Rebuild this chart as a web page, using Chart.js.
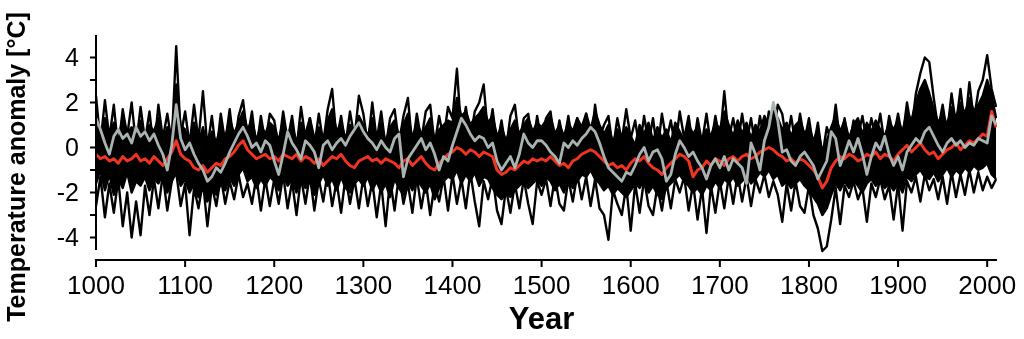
<!DOCTYPE html>
<html>
<head>
<meta charset="utf-8">
<script src="https://cdn.jsdelivr.net/npm/chart.js@4.4.1/dist/chart.umd.min.js"></script>
<style>
  html, body { margin: 0; padding: 0; background: #fff; }
  #wrap { width: 1024px; height: 339px; }
</style>
</head>
<body>
<div id="wrap"><canvas id="tempChart" width="1024" height="339"></canvas></div>
<script>
// 5-year steps, 1000 .. 2010
const startYear = 1000;
const yearStep = 5;

// red line (mean)
const redMean = [
  -0.3, -0.5, -0.4, -0.6, -0.5, -0.7, -0.4, -0.6, -0.5, -0.3, -0.6, -0.5, -0.7, -0.4, -0.6, -0.8, -0.5, -0.2, 0.3, -0.3,
  -0.5, -0.6, -0.9, -1.0, -0.8, -1.1, -0.9, -0.7, -0.8, -0.5, -0.4, -0.2, 0.1, 0.3, -0.1, -0.3, -0.5, -0.4, -0.3, -0.5,
  -0.4, -0.6, -0.3, -0.4, -0.5, -0.3, -0.6, -0.4, -0.5, -0.7, -0.5, -0.8, -0.6, -0.4, -0.5, -0.3, -0.6, -0.8, -0.9, -0.6,
  -0.5, -0.4, -0.6, -0.5, -0.7, -0.5, -0.6, -0.7, -0.9, -0.6, -0.5, -0.8, -0.6, -0.4, -0.7, -0.9, -1.0, -0.7, -0.5, -0.3,
  -0.2, 0.0, -0.1, -0.3, -0.1, -0.2, -0.4, -0.2, -0.3, -0.4, -1.0, -1.2, -1.1, -0.9, -1.0, -0.8, -0.6, -0.7, -0.5, -0.6,
  -0.5, -0.6, -0.4, -0.6, -0.8, -0.7, -0.9, -0.6, -0.5, -0.3, -0.2, -0.1, -0.2, -0.4, -0.6, -0.8, -0.7, -0.9, -0.8, -1.0,
  -0.7, -0.5, -0.6, -0.4, -0.7, -0.9, -1.0, -1.2, -0.9, -0.7, -0.5, -0.3, -0.4, -0.6, -1.3, -1.0, -0.9, -0.6, -0.8, -0.5,
  -0.6, -0.8, -0.5, -0.4, -0.6, -0.4, -0.3, -0.5, -0.4, -0.2, -0.1, 0.0, -0.1, -0.3, -0.4, -0.6, -0.5, -0.7, -0.5, -0.6,
  -0.8, -1.0, -1.3, -1.8, -1.5, -0.9, -0.6, -0.4, -0.5, -0.3, -0.4, -0.6, -0.5, -0.3, -0.4, -0.2, -0.5, -0.3, -0.4, -0.6,
  -0.3, -0.1, 0.1, -0.2, 0.0, 0.2, -0.1, -0.3, -0.2, -0.5, -0.3, -0.1, 0.0, 0.2, -0.1, 0.1, 0.3, 0.2, 0.4, 0.6,
  0.5, 1.6, 0.9
];

// grey line
const greySeries = [
  1.3, 0.8, 0.2, -0.3, 0.5, 0.8, 0.4, 0.6, 0.2, 0.9, 0.5, 0.7, 0.3, 0.6, 0.1, -0.3, -1.0, 0.1, 1.9, 0.4,
  -0.1, 0.2, -0.3, -0.7, -1.0, -1.5, -1.3, -0.9, -1.1, -0.7, -0.2, 0.2, 0.6, 0.9, 0.5, 0.0, 0.2, -0.2, 0.3, 0.1,
  -0.6, -1.2, -0.3, 0.7, 0.2, -0.1, -0.5, 0.3, 0.1, -0.2, -0.9, 0.1, 0.3, -0.1, 0.2, 0.4, 0.1, 0.5, 0.8, 1.1,
  0.7, 0.4, 0.2, -0.1, 0.3, 0.0, -0.2, 0.4, 0.6, -1.3, -0.5, -0.2, 0.1, 0.4, -0.1, 0.2, -0.3, -1.0, -0.4, -0.6,
  0.1, 0.7, 1.3, 1.0, 0.6, 0.3, 0.5, 0.4, 0.0, 0.2, -0.6, -1.0, -0.7, -0.4, -0.9, -0.3, 0.6, 0.2, 0.0, 0.3,
  0.3, 0.1, -0.2, -0.4, -0.7, 0.2, 0.0, 0.3, 0.1, 0.4, 0.6, 0.9, 0.7, 0.2, -0.4, -0.9, -1.1, -1.3, -1.5, -1.1,
  -1.2, -0.8, -0.3, 0.0, -0.6, -0.2, -0.1, -0.5, -1.5, -1.2, -0.3, 0.3, 0.0, -0.4, -0.2, -0.6, -0.9, -1.4, -0.8, -0.5,
  -0.9, -0.4, -1.0, -0.5, -0.7, -0.9, -1.6, 0.2, -0.3, -1.0, 0.3, 0.9, 2.0, 1.2, -0.2, -0.1, -0.6, -0.8, -0.4, -0.2,
  -0.5, -0.8, -1.4, -1.0, -0.6, 0.7, 0.4, -0.8, -0.3, 0.3, -0.2, 0.4, -0.3, -1.2, -0.4, 0.2, -0.1, 0.5, -0.3, -0.8,
  -0.4, -1.0, -0.2, 0.1, 0.4, 0.2, 0.7, 0.9, 0.5, 0.1, -0.2, 0.2, 0.4, 0.1, 0.3, 0.0, 0.2, 0.1, 0.4, 0.3,
  0.2, 1.4, 1.0
];

// black reconstructions
const black1 = [
  2.3, 0.2, 2.1, 0.4, 1.9, -0.1, 1.7, 0.5, 2.0, 0.1, 1.8, 0.3, 1.6, -0.2, 1.9, 0.4, 1.5, 0.2, 4.5, 0.5,
  1.6, 0.1, 1.9, 0.3, 2.5, 0.0, 1.4, -0.3, 1.5, 0.2, 1.7, 0.0, 1.4, 2.1, 0.4, 1.6, -0.1, 1.4, 0.2, 1.5,
  1.2, 0.0, 1.6, 0.3, 1.4, -0.1, 1.8, 0.4, 1.3, 0.0, 1.5, 0.2, 1.7, 2.6, 0.3, 1.4, 0.1, 1.6, 0.4, 2.3,
  1.5, 0.1, 2.0, 0.3, 1.6, 0.0, 1.3, 1.7, 0.2, 1.4, 2.2, 0.0, 1.5, 0.3, 1.6, 1.9, 0.1, 1.4, 0.4, 1.8,
  1.3, 3.5, 0.6, 1.8, 0.4, 1.6, 2.0, 2.8, 0.5, 1.7, 0.1, 1.2, -0.1, 1.4, 1.9, 0.2, 1.3, 1.5, 0.0, 1.4,
  0.2, 1.3, 1.6, 0.0, 1.2, 0.2, 1.4, 0.1, 1.3, 0.4, 1.5, 0.0, 1.9, 0.4, 1.0, 1.4, -0.1, 1.3, 0.3, 1.7,
  0.4, 1.2, -0.1, 1.4, 0.2, 1.3, -0.2, 1.5, 0.3, 1.2, 0.0, 1.6, 0.4, 1.4, -0.1, 1.3, 0.2, 1.5, 0.1, 1.4,
  0.3, 2.5, 0.4, 1.3, 0.1, 1.5, 0.2, 1.3, 0.0, 1.4, 0.3, 1.6, 0.5, 1.9, 1.5, 0.2, 1.4, 0.1, 1.5, 0.3,
  1.3, 0.0, 1.1, -0.4, 0.9, 0.3, 1.9, 0.2, 1.3, 0.0, 1.2, 0.5, 1.4, 0.2, 1.3, 0.4, 1.5, 0.1, 1.4, 0.5,
  1.5, 0.4, 2.0, 0.8, 2.4, 3.3, 4.0, 3.8, 2.2, 0.8, 1.9, 0.6, 2.4, 1.0, 2.6, 0.9, 2.9, 1.2, 2.5, 3.0,
  4.1, 2.6, 1.8
];
const black2 = [
  1.0, 0.3, 1.3, 0.5, 1.1, 0.2, 1.4, 0.6, 0.9, 0.3, 1.2, 0.4, 1.0, 0.7, 1.3, 0.2, 0.9, 0.5, 2.8, 1.0,
  0.8, 0.1, 1.1, 0.2, 0.9, 0.0, 0.7, 0.2, 1.0, 0.4, 1.3, 0.6, 1.1, 1.6, 0.8, 1.2, 0.3, 1.0, 0.6, 1.1,
  0.9, 0.3, 1.2, 0.5, 1.0, 0.2, 1.1, 0.6, 1.3, 0.4, 0.9, 0.3, 1.2, 1.7, 0.7, 1.1, 0.4, 1.0, 0.6, 1.4,
  1.0, 0.5, 1.3, 0.4, 1.1, 0.2, 0.9, 1.2, 0.5, 1.0, 1.5, 0.4, 1.1, 0.6, 0.9, 1.3, 0.3, 0.8, 1.0, 1.2,
  1.1, 2.2, 1.4, 1.6, 1.0, 1.3, 1.5, 1.8, 1.1, 1.4, 0.5, 0.9, 0.3, 0.8, 1.2, 0.6, 1.0, 1.3, 0.7, 1.1,
  0.9, 1.2, 1.4, 0.6, 1.0, 0.5, 1.1, 0.7, 1.3, 0.9, 1.5, 0.8, 1.6, 1.0, 0.6, 1.0, 0.2, 0.8, 0.4, 0.9,
  0.5, 0.1, 1.0, 0.6, 1.1, 0.3, 0.9, 0.4, 0.8, 0.2, 1.1, 0.7, 0.3, 1.0, 0.6, 0.9, 0.2, 0.8, 0.5, 1.1,
  0.8, 1.6, 1.0, 0.5, 1.2, 0.6, 1.1, 0.4, 1.0, 0.7, 1.4, 1.0, 1.7, 1.3, 0.8, 1.1, 0.5, 1.0, 1.2, 0.6,
  0.9, 0.3, 0.8, -0.2, 0.3, 0.9, 1.4, 0.7, 1.2, 0.4, 1.0, 1.3, 0.6, 1.1, 0.7, 1.2, 0.8, 0.5, 1.1, 0.8,
  1.2, 0.7, 1.6, 1.2, 2.0, 2.6, 3.0, 2.4, 1.7, 1.1, 1.5, 1.0, 1.8, 1.3, 2.0, 1.5, 2.2, 1.6, 1.9, 2.3,
  3.0, 2.3, 1.3
];
const black3 = [
  -1.6, -1.0, -1.9, -1.2, -2.1, -1.4, -1.8, -1.1, -2.0, -1.5, -1.7, -1.3, -1.9, -1.4, -1.6, -1.2, -2.0, -1.5, -0.9, -1.7,
  -1.4, -2.0, -1.6, -2.2, -1.8, -2.4, -1.9, -2.1, -1.6, -1.9, -1.3, -1.7, -1.2, -0.9, -1.5, -1.3, -1.8, -1.4, -1.7, -1.3,
  -1.5, -1.9, -1.2, -1.7, -1.4, -2.0, -1.3, -1.8, -1.5, -2.1, -1.6, -1.2, -1.7, -1.4, -1.9, -1.3, -1.8, -2.0, -1.6, -1.4,
  -1.7, -1.3, -1.9, -1.5, -2.0, -1.6, -2.2, -1.4, -1.8, -2.1, -1.5, -1.9, -1.4, -1.7, -2.0, -1.6, -2.3, -1.8, -1.5, -1.3,
  -1.4, -1.0, -1.6, -1.2, -1.5, -1.1, -1.7, -1.3, -1.4, -1.8, -2.1, -2.3, -2.0, -2.2, -1.9, -1.7, -1.5, -1.8, -1.6, -1.4,
  -1.7, -1.3, -1.5, -1.9, -1.6, -2.0, -1.4, -1.8, -1.5, -1.2, -1.3, -1.0, -1.4, -1.6, -1.9, -1.7, -2.1, -1.8, -2.0, -2.2,
  -1.9, -1.6, -1.8, -1.4, -2.0, -1.7, -2.1, -2.3, -1.8, -1.6, -1.4, -1.2, -1.5, -1.7, -2.0, -1.8, -2.1, -1.7, -1.9, -1.5,
  -1.8, -1.4, -1.6, -1.3, -1.7, -1.5, -1.2, -1.6, -1.4, -1.1, -1.3, -1.0, -1.4, -1.2, -1.7, -1.5, -1.8, -1.6, -1.4, -1.7,
  -1.9, -2.2, -2.5, -3.0, -2.7, -2.1, -1.6, -1.9, -1.5, -1.8, -1.4, -1.7, -2.0, -1.6, -1.4, -1.7, -1.5, -1.8, -1.6, -1.9,
  -1.6, -2.0, -1.3, -1.5, -1.2, -1.0, -1.3, -1.4, -1.1, -1.5, -1.2, -0.9, -1.3, -1.0, -1.2, -0.9, -1.1, -0.8, -1.0, -0.9,
  -0.7, -1.2, -1.4
];
const black4 = [
  -2.6, -1.3, -3.1, -1.6, -2.9, -1.4, -3.5, -2.0, -4.0, -2.4, -3.9, -1.7, -3.0, -1.4, -2.7, -1.2, -2.8, -1.5, -1.1, -2.6,
  -1.6, -3.9, -1.8, -2.7, -1.5, -3.5, -1.7, -2.6, -1.3, -2.5, -1.5, -2.3, -1.2, -2.2, -1.6, -2.5, -1.3, -2.8, -1.4, -2.6,
  -1.4, -2.5, -1.2, -2.7, -1.5, -3.0, -1.3, -2.5, -1.2, -2.8, -1.4, -2.4, -1.1, -2.6, -1.5, -2.9, -1.3, -2.5, -1.4, -2.7,
  -1.3, -2.6, -1.5, -3.1, -1.6, -3.5, -1.4, -2.8, -1.2, -2.5, -1.6, -2.9, -1.3, -2.7, -1.5, -3.0, -1.6, -2.4, -1.3, -2.8,
  -1.2, -2.5, -1.4, -2.7, -1.1, -2.4, -3.5, -1.5, -2.3, -1.3, -2.8, -3.4, -1.8, -2.9, -1.6, -2.7, -1.4, -2.5, -3.4, -1.5,
  -2.1, -1.4, -2.6, -1.3, -2.5, -2.8, -1.4, -2.4, -1.2, -2.3, -1.3, -2.6, -1.4, -2.7, -3.0, -4.1, -1.9, -2.5, -3.0, -1.7,
  -3.7, -1.6, -2.9, -1.4, -2.6, -3.0, -1.7, -2.8, -1.5, -2.7, -1.4, -2.0, -1.3, -2.8, -1.6, -3.2, -1.8, -3.8, -1.7, -2.9,
  -1.5, -2.7, -1.3, -2.5, -1.2, -2.4, -1.3, -2.6, -1.4, -2.0, -1.2, -2.2, -1.5, -2.1, -3.3, -1.6, -2.8, -1.5, -2.6, -2.9,
  -1.7, -3.0, -3.6, -4.6, -4.4, -3.2, -1.8, -3.4, -1.7, -2.2, -1.5, -2.3, -1.8, -3.3, -1.6, -2.2, -1.4, -2.3, -1.7, -3.2,
  -1.6, -3.7, -1.5, -2.0, -1.3, -2.4, -1.2, -1.9, -1.4, -2.3, -1.3, -2.5, -1.1, -2.2, -1.2, -2.1, -1.0, -2.0, -1.1, -1.9,
  -1.3, -1.8, -1.4
];

// axes
const xTicks = [1000, 1100, 1200, 1300, 1400, 1500, 1600, 1700, 1800, 1900, 2000];
const yMajorTicks = [-4, -2, 0, 2, 4];
const yMinorTicks = [-3, -1, 1, 3];

const years = redMean.map((v, i) => startYear + i * yearStep);
const toPoints = arr => arr.map((v, i) => ({ x: years[i], y: v }));

const FONT = '"Liberation Sans", Arial, Helvetica, sans-serif';

// draws the R-style detached axes
const axesPlugin = {
  id: 'axesPlugin',
  afterDatasetsDraw(chart) {
    const { ctx, chartArea } = chart;
    const xs = chart.scales.x, ys = chart.scales.y;
    const axX = chartArea.left;
    const axY = ys.getPixelForValue(-5);
    ctx.save();
    ctx.strokeStyle = '#000';
    ctx.lineWidth = 2;
    ctx.beginPath();
    ctx.moveTo(axX, ys.getPixelForValue(5));
    ctx.lineTo(axX, ys.getPixelForValue(-4.55));
    yMajorTicks.concat(yMinorTicks).forEach(v => {
      const py = ys.getPixelForValue(v);
      ctx.moveTo(axX, py);
      ctx.lineTo(axX - 6, py);
    });
    ctx.moveTo(xs.getPixelForValue(998.8), axY);
    ctx.lineTo(xs.getPixelForValue(2011), axY);
    xTicks.forEach(v => {
      const px = xs.getPixelForValue(v);
      ctx.moveTo(px, axY);
      ctx.lineTo(px, axY + 7);
    });
    ctx.stroke();

    ctx.fillStyle = '#000';
    ctx.font = '25px ' + FONT;
    ctx.textAlign = 'right';
    ctx.textBaseline = 'middle';
    yMajorTicks.forEach(v => {
      ctx.fillText(String(v), 79, ys.getPixelForValue(v) + 2);
    });
    ctx.font = '26px ' + FONT;
    ctx.textAlign = 'center';
    xTicks.forEach(v => {
      ctx.fillText(String(v), xs.getPixelForValue(v), 287);
    });

    ctx.font = 'bold 31px ' + FONT;
    ctx.fillText('Year', xs.getPixelForValue(1500), 320);

    ctx.translate(25, 167);
    ctx.rotate(-Math.PI / 2);
    ctx.font = 'bold 25px ' + FONT;
    ctx.textBaseline = 'alphabetic';
    ctx.fillText('Temperature anomaly [°C]', 0, 0);
    ctx.restore();
  }
};

const blackLine = data => ({
  data: toPoints(data),
  borderColor: '#000',
  borderWidth: 2.4,
  fill: false,
  order: 3
});

new Chart(document.getElementById('tempChart').getContext('2d'), {
  type: 'line',
  data: {
    datasets: [
      { label: 'grey', data: toPoints(greySeries), borderColor: '#a9b3b1', borderWidth: 2.8, fill: false, order: 0 },
      { label: 'mean', data: toPoints(redMean), borderColor: '#f0341f', borderWidth: 3, fill: false, order: 1 },
      blackLine(black1),
      Object.assign(blackLine(black2), { fill: '+1', backgroundColor: '#000' }),
      blackLine(black3),
      blackLine(black4)
    ]
  },
  options: {
    responsive: false,
    animation: false,
    devicePixelRatio: 1,
    layout: { padding: { left: 96, right: 27, top: 35, bottom: 79 } },
    elements: {
      point: { radius: 0, hoverRadius: 0 },
      line: { tension: 0, borderJoinStyle: 'round' }
    },
    plugins: { legend: { display: false }, tooltip: { enabled: false } },
    scales: {
      x: { type: 'linear', min: 1000, max: 2011, display: false },
      y: { type: 'linear', min: -5, max: 5, display: false }
    }
  },
  plugins: [axesPlugin]
});
</script>
</body>
</html>
